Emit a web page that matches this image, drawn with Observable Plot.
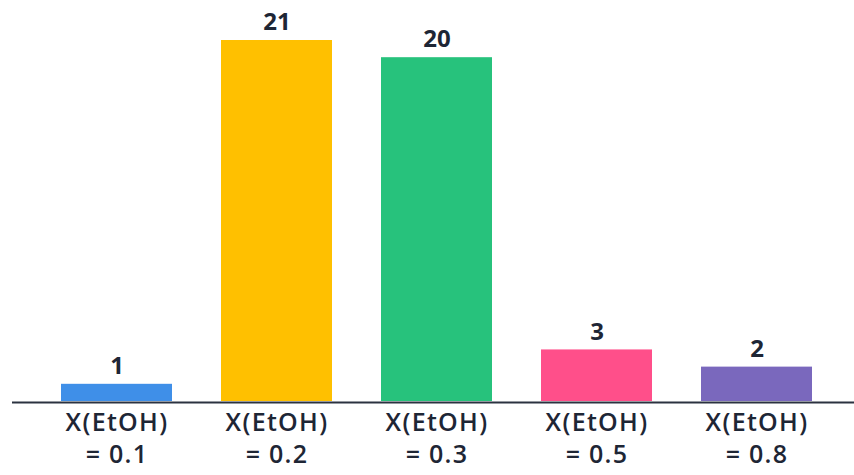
<!DOCTYPE html>
<html>
<head>
<meta charset="utf-8">
<script src="https://cdn.jsdelivr.net/npm/d3@7"></script>
<script src="https://cdn.jsdelivr.net/npm/@observablehq/plot@0.6"></script>
<style>
  html, body { margin: 0; padding: 0; background: #fff; }
  #chart svg { display: block; }
  #chart g[aria-label="x-axis tick label"] text { letter-spacing: 1.3px; }
</style>
</head>
<body>
<div id="chart"></div>
<script>
const categories = ["X(EtOH) = 0.1", "X(EtOH) = 0.2", "X(EtOH) = 0.3", "X(EtOH) = 0.5", "X(EtOH) = 0.8"];
const values = [1, 21, 20, 3, 2];
const colors = ["#3f8fe8", "#ffc000", "#27c27c", "#ff4f8a", "#7a68bd"];

const data = categories.map((c, i) => ({category: c, value: values[i], color: colors[i]}));

const chart = Plot.plot({
  width: 854,
  height: 475,
  marginTop: 40,
  marginBottom: 74,
  marginLeft: 12,
  marginRight: 0,
  style: {fontFamily: "'Open Sans', sans-serif", background: "#fff"},
  x: {domain: categories, paddingInner: 0.308, paddingOuter: 0.277, align: 0.54, label: null},
  y: {domain: [0, 21], axis: null},
  color: {type: "identity"},
  marks: [
    Plot.barY(data, {x: "category", y: "value", fill: "color"}),
    Plot.text(data, {x: "category", y: "value", text: d => String(d.value), dy: -18,
      fontSize: 24, fontWeight: 700, fill: "#1e2635"}),
    Plot.ruleY([0], {stroke: "#2b3240", strokeWidth: 2, dy: 1}),
    Plot.axisX({tickSize: 0, tickPadding: 7, fontSize: 25, fontWeight: 600, fill: "#1e2635",
      lineHeight: 1.28, label: null,
      tickFormat: d => d.replace(" = ", "\n= ")})
  ]
});
document.getElementById("chart").append(chart);
</script>
</body>
</html>
